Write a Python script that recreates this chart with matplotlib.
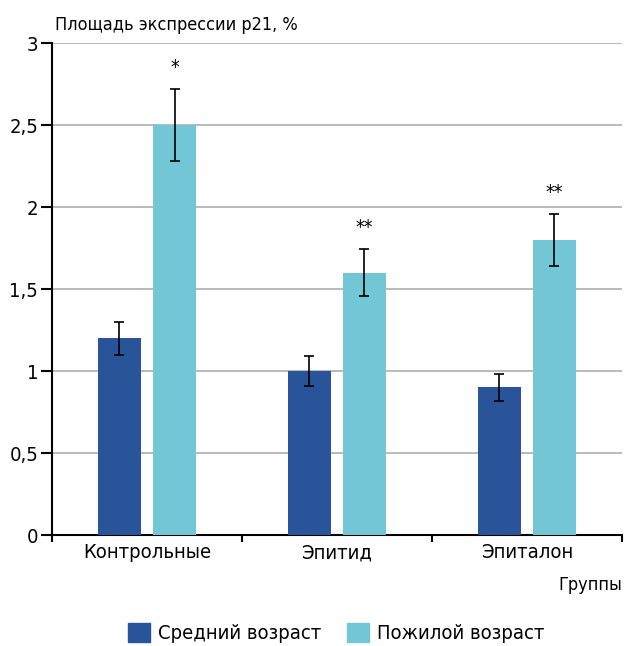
import numpy as np
import matplotlib.pyplot as plt
from matplotlib.patches import Patch

plt.rcParams['font.family'] = ['DejaVu Sans']
plt.rcParams['font.stretch'] = 'condensed'

groups = ['Контрольные', 'Эпитид', 'Эпиталон']
middle_age = [1.2, 1.0, 0.9]
middle_err = [0.10, 0.09, 0.08]
elderly = [2.5, 1.6, 1.8]
elderly_err = [0.22, 0.145, 0.16]
marks = ['*', '**', '**']

dark = '#2a549a'
light = '#72c6d6'

fig = plt.figure(figsize=(6.25, 6.46), dpi=100)
ax = fig.add_axes([0.0832, 0.1718, 0.9118, 0.7616])

x = np.arange(len(groups))
w = 0.226
off = 0.145
ax.bar(x - off, middle_age, w, color=dark, zorder=3)
ax.bar(x + off, elderly, w, color=light, zorder=3)
ax.errorbar(x - off, middle_age, yerr=middle_err, fmt='none', ecolor='black',
            elinewidth=1.2, capsize=3.8, capthick=1.2, zorder=4)
ax.errorbar(x + off, elderly, yerr=elderly_err, fmt='none', ecolor='black',
            elinewidth=1.2, capsize=3.8, capthick=1.2, zorder=4)

# significance marks above the elderly bars
for xi, v, e, m in zip(x, elderly, elderly_err, marks):
    ax.text(xi + off, v + e + 0.13, m, ha='center', va='center', fontsize=14)

ax.set_xlim(-0.5, 2.5)
ax.set_ylim(0, 3)
ax.set_yticks(np.arange(0, 3.01, 0.5))
ax.set_yticklabels(['0', '0,5', '1', '1,5', '2', '2,5', '3'], fontsize=14.5)
ax.yaxis.grid(True, color='#b4b4b4', linewidth=1.3, zorder=0)
ax.tick_params(axis='y', length=8, width=1.5, pad=2)

ax.set_xticks(x)
ax.set_xticklabels(groups, fontsize=14.5)
ax.tick_params(axis='x', length=0, pad=6)
ax.set_xticks([-0.5, 0.5, 1.5, 2.5], minor=True)
ax.tick_params(axis='x', which='minor', length=5, width=1.5)

for s in ['top', 'right']:
    ax.spines[s].set_visible(False)
for s in ['left', 'bottom']:
    ax.spines[s].set_linewidth(1.5)

fig.text(0.088, 0.961, 'Площадь экспрессии р21, %', fontsize=13, va='center')
fig.text(0.995, 0.094, 'Группы', fontsize=13, ha='right', va='center')

handles = [Patch(color=dark, label='Средний возраст'),
           Patch(color=light, label='Пожилой возраст')]
fig.legend(handles=handles, loc='center', bbox_to_anchor=(0.538, 0.02),
           ncol=2, frameon=False, fontsize=14.5, handlelength=1.1,
           handleheight=1.1, handletextpad=0.4, columnspacing=1.3)

fig.savefig('out.png', dpi=100)
